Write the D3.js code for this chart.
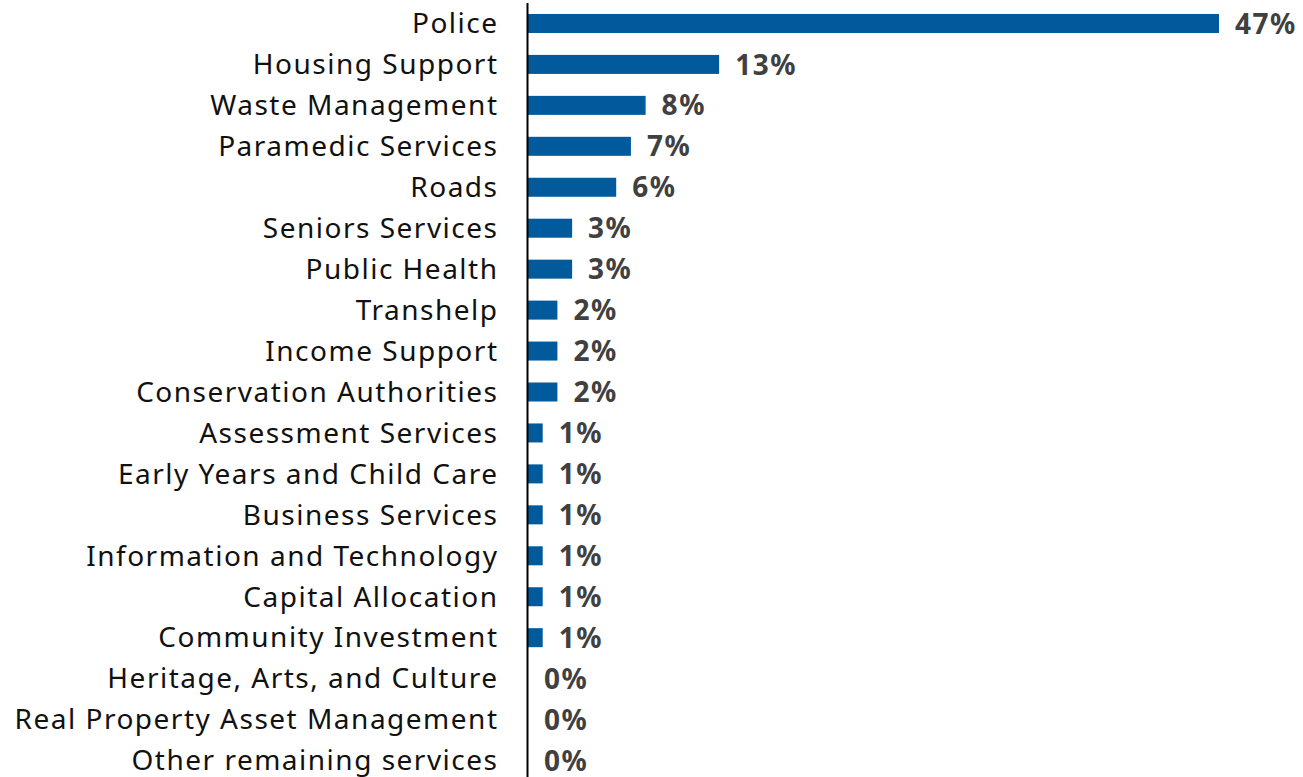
<!DOCTYPE html>
<html><head><meta charset="utf-8">
<script src="https://cdn.jsdelivr.net/npm/d3@7"></script>
<style>body{margin:0;background:#fff}svg{display:block}</style>
</head><body>
<svg id="c" width="1303" height="777"></svg>
<script>
const categories = ["Police","Housing Support","Waste Management","Paramedic Services","Roads","Seniors Services","Public Health","Transhelp","Income Support","Conservation Authorities","Assessment Services","Early Years and Child Care","Business Services","Information and Technology","Capital Allocation","Community Investment","Heritage, Arts, and Culture","Real Property Asset Management","Other remaining services"];
const values = [47,13,8,7,6,3,3,2,2,2,1,1,1,1,1,1,0,0,0];

const svg = d3.select("#c");
const x = d3.scaleLinear().domain([0,47]).range([528,1219]);
const y = d3.scaleBand().domain(categories).range([3,781]).paddingInner(0.536).paddingOuter(0.268);

svg.selectAll("rect.bar").data(categories).join("rect")
  .attr("x", x(0)).attr("y", d=>y(d)).attr("height", y.bandwidth())
  .attr("width", (d,i)=>x(values[i])-x(0)).attr("fill","#005a9c");

const cat = svg.selectAll("text.cat").data(categories).join("text")
  .attr("x", 498.5).attr("y", d=>y(d)+y.bandwidth()/2).attr("dy","0.35em")
  .attr("text-anchor","end").attr("font-family","Noto Sans").attr("font-size",28)
  .attr("letter-spacing",1.5).attr("fill","#111").text(d=>d);

svg.selectAll("text.val").data(categories).join("text")
  .attr("x", (d,i)=>x(values[i])+16).attr("y", d=>y(d)+y.bandwidth()/2).attr("dy","0.36em")
  .attr("font-family","Noto Sans").attr("font-weight","bold").attr("font-size",28)
  .attr("letter-spacing",1.5).attr("fill","#404040").text((d,i)=>values[i]+"%");

svg.append("line").attr("x1",527.5).attr("x2",527.5).attr("y1",3).attr("y2",777)
  .attr("stroke","#000").attr("stroke-width",2);
</script>
</body></html>
